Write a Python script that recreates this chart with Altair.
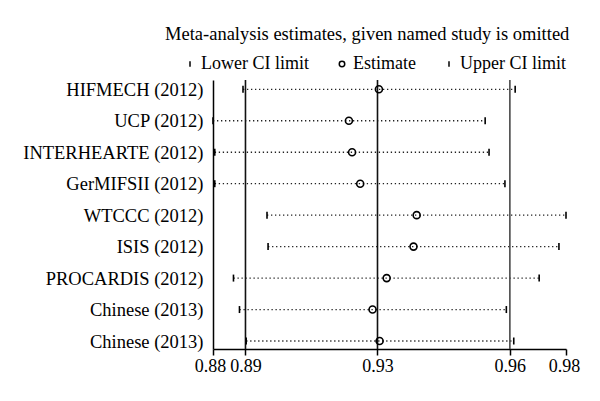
import altair as alt
import pandas as pd

studies = ["HIFMECH (2012)", "UCP (2012)", "INTERHEARTE (2012)", "GerMIFSII (2012)",
           "WTCCC (2012)", "ISIS (2012)", "PROCARDIS (2012)", "Chinese (2013)", "Chinese (2013)"]
lower = [0.8885, 0.8800, 0.8805, 0.8805, 0.8953, 0.8956, 0.8858, 0.8875, 0.8894]
estimate = [0.9270, 0.9185, 0.9194, 0.9217, 0.9377, 0.9368, 0.9292, 0.9252, 0.9272]
upper = [0.9656, 0.9571, 0.9582, 0.9627, 0.9800, 0.9780, 0.9724, 0.9631, 0.9652]

overall = [0.8892, 0.9266, 0.9641]  # lower CI, estimate, upper CI of the pooled result
axis_min, axis_max = 0.8800, 0.9800
legend_labels = ["Lower CI limit", "Estimate", "Upper CI limit"]

FONT = "Liberation Serif"

idx = list(range(1, len(studies) + 1))
df = pd.DataFrame({"idx": idx, "study": studies, "lower": lower,
                   "estimate": estimate, "upper": upper})

long_rows = []
for i, lo, es, up in zip(idx, lower, estimate, upper):
    long_rows.append({"idx": i, "value": lo, "kind": legend_labels[0]})
    long_rows.append({"idx": i, "value": es, "kind": legend_labels[1]})
    long_rows.append({"idx": i, "value": up, "kind": legend_labels[2]})
df_long = pd.DataFrame(long_rows)

ref_df = pd.DataFrame({"x": overall, "c": ["#111111", "#111111", "#4a4a4a"]})

label_expr = "[" + ",".join("'" + s + "'" for s in studies) + "][datum.value - 1]"

xscale = alt.Scale(domain=[axis_min, axis_max], nice=False, zero=False)
yscale = alt.Scale(domain=[0.704, 9.254], reverse=True, nice=False, zero=False)

xaxis = alt.Axis(values=[axis_min] + overall + [axis_max], format=".2f", title=None,
                 grid=False, labelFlush=False, labelOverlap=False, tickSize=6,
                 tickColor="black", tickWidth=1.5, domainColor="black", domainWidth=1.5,
                 labelFont=FONT, labelFontSize=18, labelColor="black", labelPadding=2,
                 labelOffset=alt.ExprRef("datum.value < 0.885 ? -3 : (datum.value > 0.975 ? -2 : 0)"))
yaxis = alt.Axis(values=idx, labelExpr=label_expr, title=None, grid=False, ticks=False,
                 labelOverlap=False, labelFlush=False, labelLimit=400,
                 domainColor="black", domainWidth=1.5, labelFont=FONT, labelFontSize=18.5,
                 labelColor="black", labelPadding=10)

dots = alt.Chart(df).mark_rule(strokeDash=[1.3, 2.7], strokeWidth=1.3, color="#222222").encode(
    x=alt.X("lower:Q", scale=xscale, axis=xaxis),
    x2="upper:Q",
    y=alt.Y("idx:Q", scale=yscale, axis=yaxis),
)

refs = alt.Chart(ref_df).mark_rule(strokeWidth=1.6).encode(
    x=alt.X("x:Q", scale=xscale, axis=xaxis),
    color=alt.Color("c:N", scale=None, legend=None),
)

points = alt.Chart(df_long).mark_point(filled=False, strokeWidth=1.6, color="black",
                                       opacity=1, size=49).encode(
    x=alt.X("value:Q", scale=xscale, axis=xaxis),
    y=alt.Y("idx:Q", scale=yscale, axis=yaxis),
    shape=alt.Shape("kind:N",
                    scale=alt.Scale(domain=legend_labels,
                                    range=["M0,-1L0,1", "circle", "M0,-1L0,1"]),
                    legend=alt.Legend(title=None, orient="none", direction="horizontal",
                                      legendX=-32, legendY=-25, symbolSize=30,
                                      symbolStrokeWidth=1.5, symbolStrokeColor="black",
                                      symbolFillColor="transparent", labelFont=FONT,
                                      labelFontSize=18, labelColor="black",
                                      labelOffset=2, columnPadding=24, padding=0)),
)

chart = alt.layer(dots, refs, points).properties(
    width=353, height=269,
    autosize="none",
    padding={"left": 205, "top": 72, "right": 26, "bottom": 44},
    title=alt.TitleParams("Meta-analysis estimates, given named study is omitted",
                          anchor="start", frame="group", font=FONT, fontSize=18.5,
                          fontWeight="normal", color="black", dx=-48, offset=12),
).configure_view(stroke=None).configure_axisY(labelOverlap=False)

chart.save("out.html", embed_options={"renderer": "svg", "actions": False})
